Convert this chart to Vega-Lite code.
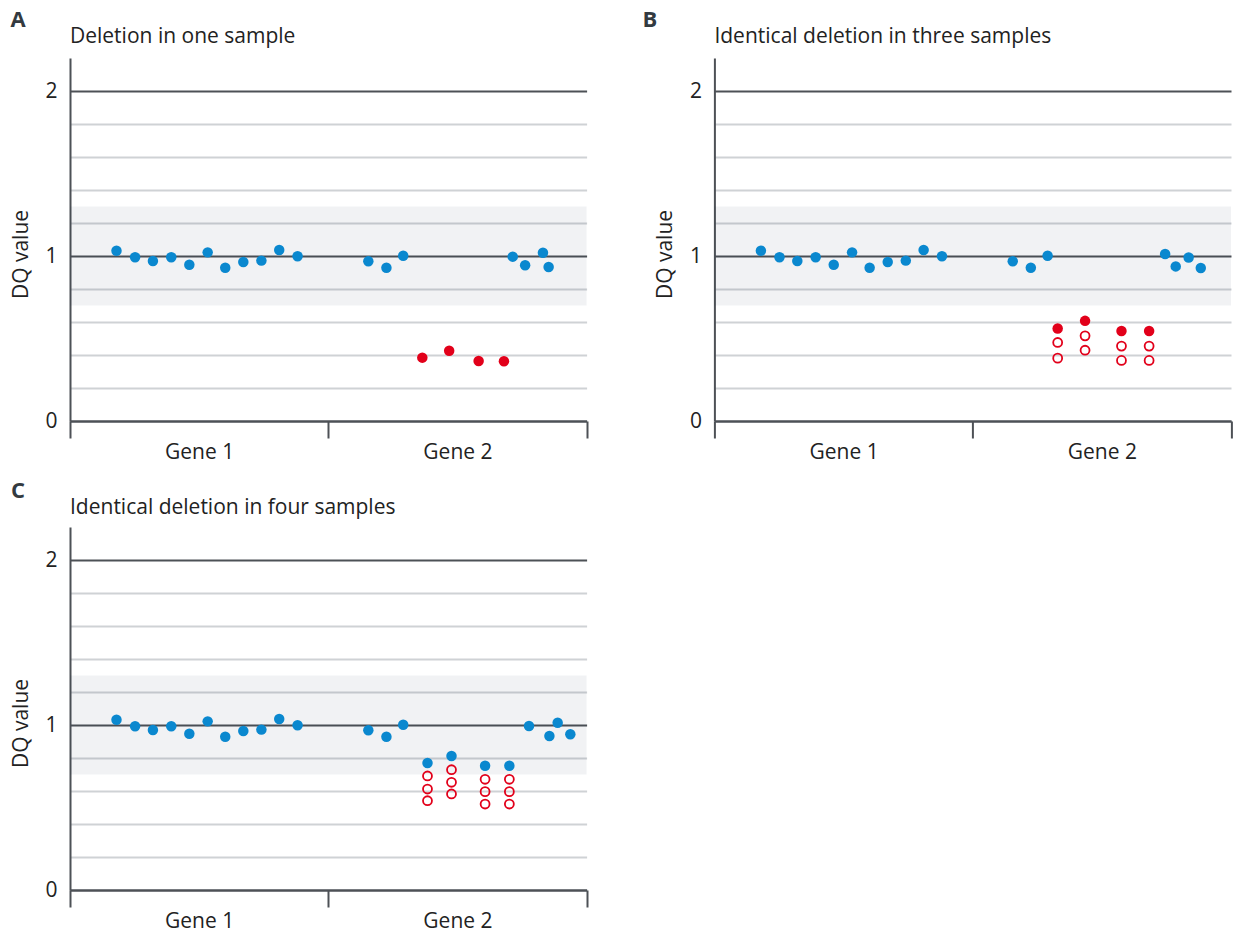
{
  "$schema": "https://vega.github.io/schema/vega-lite/v6.json",
  "padding": {"left": 10, "top": 9, "right": 0, "bottom": 0},
  "background": "white",
  "config": {"view": {"stroke": null}},
  "datasets": {
    "A": [
      {"pos": 0.180, "dq": 1.032, "status": "normal"},
      {"pos": 0.252, "dq": 0.992, "status": "normal"},
      {"pos": 0.321, "dq": 0.970, "status": "normal"},
      {"pos": 0.392, "dq": 0.992, "status": "normal"},
      {"pos": 0.462, "dq": 0.947, "status": "normal"},
      {"pos": 0.533, "dq": 1.022, "status": "normal"},
      {"pos": 0.601, "dq": 0.929, "status": "normal"},
      {"pos": 0.671, "dq": 0.964, "status": "normal"},
      {"pos": 0.741, "dq": 0.972, "status": "normal"},
      {"pos": 0.810, "dq": 1.036, "status": "normal"},
      {"pos": 0.881, "dq": 0.998, "status": "normal"},
      {"pos": 1.155, "dq": 0.968, "status": "normal"},
      {"pos": 1.225, "dq": 0.929, "status": "normal"},
      {"pos": 1.290, "dq": 1.002, "status": "normal"},
      {"pos": 1.714, "dq": 0.996, "status": "normal"},
      {"pos": 1.762, "dq": 0.944, "status": "normal"},
      {"pos": 1.831, "dq": 1.020, "status": "normal"},
      {"pos": 1.853, "dq": 0.933, "status": "normal"},
      {"pos": 1.364, "dq": 0.384, "status": "deletion"},
      {"pos": 1.468, "dq": 0.426, "status": "deletion"},
      {"pos": 1.582, "dq": 0.364, "status": "deletion"},
      {"pos": 1.680, "dq": 0.362, "status": "deletion"}
    ],
    "B": [
      {"pos": 0.180, "dq": 1.032, "status": "normal"},
      {"pos": 0.252, "dq": 0.992, "status": "normal"},
      {"pos": 0.321, "dq": 0.970, "status": "normal"},
      {"pos": 0.392, "dq": 0.992, "status": "normal"},
      {"pos": 0.462, "dq": 0.947, "status": "normal"},
      {"pos": 0.533, "dq": 1.022, "status": "normal"},
      {"pos": 0.601, "dq": 0.929, "status": "normal"},
      {"pos": 0.671, "dq": 0.964, "status": "normal"},
      {"pos": 0.741, "dq": 0.972, "status": "normal"},
      {"pos": 0.810, "dq": 1.036, "status": "normal"},
      {"pos": 0.881, "dq": 0.998, "status": "normal"},
      {"pos": 1.155, "dq": 0.968, "status": "normal"},
      {"pos": 1.225, "dq": 0.929, "status": "normal"},
      {"pos": 1.290, "dq": 1.002, "status": "normal"},
      {"pos": 1.745, "dq": 1.012, "status": "normal"},
      {"pos": 1.786, "dq": 0.937, "status": "normal"},
      {"pos": 1.836, "dq": 0.991, "status": "normal"},
      {"pos": 1.883, "dq": 0.927, "status": "normal"},
      {"pos": 1.329, "dq": 0.561, "status": "deletion"},
      {"pos": 1.435, "dq": 0.607, "status": "deletion"},
      {"pos": 1.576, "dq": 0.545, "status": "deletion"},
      {"pos": 1.683, "dq": 0.545, "status": "deletion"},
      {"pos": 1.329, "dq": 0.476, "status": "other"},
      {"pos": 1.329, "dq": 0.381, "status": "other"},
      {"pos": 1.435, "dq": 0.516, "status": "other"},
      {"pos": 1.435, "dq": 0.429, "status": "other"},
      {"pos": 1.576, "dq": 0.454, "status": "other"},
      {"pos": 1.576, "dq": 0.367, "status": "other"},
      {"pos": 1.683, "dq": 0.454, "status": "other"},
      {"pos": 1.683, "dq": 0.367, "status": "other"}
    ],
    "C": [
      {"pos": 0.180, "dq": 1.032, "status": "normal"},
      {"pos": 0.252, "dq": 0.992, "status": "normal"},
      {"pos": 0.321, "dq": 0.970, "status": "normal"},
      {"pos": 0.392, "dq": 0.992, "status": "normal"},
      {"pos": 0.462, "dq": 0.947, "status": "normal"},
      {"pos": 0.533, "dq": 1.022, "status": "normal"},
      {"pos": 0.601, "dq": 0.929, "status": "normal"},
      {"pos": 0.671, "dq": 0.964, "status": "normal"},
      {"pos": 0.741, "dq": 0.972, "status": "normal"},
      {"pos": 0.810, "dq": 1.036, "status": "normal"},
      {"pos": 0.881, "dq": 0.998, "status": "normal"},
      {"pos": 1.155, "dq": 0.968, "status": "normal"},
      {"pos": 1.225, "dq": 0.929, "status": "normal"},
      {"pos": 1.290, "dq": 1.002, "status": "normal"},
      {"pos": 1.777, "dq": 0.994, "status": "normal"},
      {"pos": 1.856, "dq": 0.933, "status": "normal"},
      {"pos": 1.888, "dq": 1.014, "status": "normal"},
      {"pos": 1.937, "dq": 0.944, "status": "normal"},
      {"pos": 1.384, "dq": 0.770, "status": "missed"},
      {"pos": 1.477, "dq": 0.812, "status": "missed"},
      {"pos": 1.607, "dq": 0.753, "status": "missed"},
      {"pos": 1.701, "dq": 0.753, "status": "missed"},
      {"pos": 1.384, "dq": 0.691, "status": "other"},
      {"pos": 1.384, "dq": 0.612, "status": "other"},
      {"pos": 1.384, "dq": 0.541, "status": "other"},
      {"pos": 1.477, "dq": 0.729, "status": "other"},
      {"pos": 1.477, "dq": 0.653, "status": "other"},
      {"pos": 1.477, "dq": 0.582, "status": "other"},
      {"pos": 1.607, "dq": 0.671, "status": "other"},
      {"pos": 1.607, "dq": 0.596, "status": "other"},
      {"pos": 1.607, "dq": 0.521, "status": "other"},
      {"pos": 1.701, "dq": 0.671, "status": "other"},
      {"pos": 1.701, "dq": 0.596, "status": "other"},
      {"pos": 1.701, "dq": 0.521, "status": "other"}
    ]
  },
  "bounds": "flush",
  "columns": 2,
  "spacing": {"row": 106, "column": 127.4},
  "concat": [
    {
      "width": 516.6, "height": 363,
      "title": {"text": "Deletion in one sample", "anchor": "start", "frame": "group", "font": "Open Sans", "fontSize": 21, "fontWeight": "normal", "color": "#222222", "baseline": "alphabetic", "offset": -55},
      "layer": [
        {
          "data": {"values": [{}]},
          "mark": {"type": "rect", "color": "#0a1e3c", "opacity": 0.06},
          "encoding": {
            "x": {"datum": 0, "type": "quantitative", "scale": {"domain": [0, 2], "nice": false, "zero": false},
              "axis": {"title": null, "values": [0, 0.5, 1, 1.5, 2], "tickCount": 20, "grid": false, "domainColor": "#4d5156", "domainWidth": 2, "tickColor": "#4d5156", "tickWidth": 2, "tickSize": 17,
                "tickOpacity": {"condition": {"test": "datum.value == 0.5 || datum.value == 1.5", "value": 0}, "value": 1},
                "labelExpr": "datum.value == 0.5 ? 'Gene 1' : datum.value == 1.5 ? 'Gene 2' : ''",
                "labelFont": "Open Sans", "labelFontSize": 21, "labelColor": "#222222", "labelPadding": 3, "labelFlush": false, "labelOverlap": false}},
            "x2": {"datum": 2},
            "y": {"datum": 0.7, "type": "quantitative", "scale": {"domain": [0, 2.2], "nice": false, "zero": false},
              "axis": {"title": "DQ value", "values": [0, 0.2, 0.4, 0.6, 0.8, 1, 1.2, 1.4, 1.6, 1.8, 2], "tickCount": 30, "ticks": false, "grid": true,
                "gridColor": {"condition": {"test": "datum.value == 0 || datum.value == 1 || datum.value == 2", "value": "#4d5156"}, "value": "#cfd2d5"},
                "gridWidth": 2,
                "domainColor": "#4d5156", "domainWidth": 2,
                "labelExpr": "datum.value == 0 ? '0' : datum.value == 1 ? '1' : datum.value == 2 ? '2' : ''",
                "labelFont": "Open Sans", "labelFontSize": 21, "labelColor": "#222222", "labelPadding": 13, "labelFlush": false, "labelOverlap": false,
                "titleFont": "Open Sans", "titleFontSize": 21, "titleFontWeight": "normal", "titleColor": "#222222", "titleX": -49, "titleY": 196, "titleAlign": "center", "titleBaseline": "middle", "titleAngle": -90}},
            "y2": {"datum": 1.3}
          }
        },
        {
          "data": {"name": "A"},
          "transform": [{"filter": "datum.status != 'other'"}],
          "mark": {"type": "circle", "size": 110, "opacity": 1},
          "encoding": {
            "x": {"field": "pos", "type": "quantitative"},
            "y": {"field": "dq", "type": "quantitative"},
            "color": {"field": "status", "type": "nominal", "scale": {"domain": ["normal", "deletion", "missed"], "range": ["#0a88cf", "#e2001a", "#0a88cf"]}, "legend": null}
          }
        },
        {
          "data": {"name": "A"},
          "transform": [{"filter": "datum.status == 'other'"}],
          "mark": {"type": "point", "shape": "circle", "size": 80, "strokeWidth": 1.8, "color": "#e2001a", "filled": false, "opacity": 1},
          "encoding": {
            "x": {"field": "pos", "type": "quantitative"},
            "y": {"field": "dq", "type": "quantitative"}
          }
        },
        {
          "data": {"values": [{"letter": "A"}]},
          "mark": {"type": "text", "font": "Open Sans", "fontSize": 22, "fontWeight": "bold", "color": "#333a40", "align": "center", "baseline": "middle"},
          "encoding": {
            "x": {"datum": -0.201, "type": "quantitative"},
            "y": {"datum": 2.43, "type": "quantitative"},
            "text": {"field": "letter"}
          }
        }
      ]
    },
    {
      "width": 516.6, "height": 363,
      "title": {"text": "Identical deletion in three samples", "anchor": "start", "frame": "group", "font": "Open Sans", "fontSize": 21, "fontWeight": "normal", "color": "#222222", "baseline": "alphabetic", "offset": -55},
      "layer": [
        {
          "data": {"values": [{}]},
          "mark": {"type": "rect", "color": "#0a1e3c", "opacity": 0.06},
          "encoding": {
            "x": {"datum": 0, "type": "quantitative", "scale": {"domain": [0, 2], "nice": false, "zero": false},
              "axis": {"title": null, "values": [0, 0.5, 1, 1.5, 2], "tickCount": 20, "grid": false, "domainColor": "#4d5156", "domainWidth": 2, "tickColor": "#4d5156", "tickWidth": 2, "tickSize": 17,
                "tickOpacity": {"condition": {"test": "datum.value == 0.5 || datum.value == 1.5", "value": 0}, "value": 1},
                "labelExpr": "datum.value == 0.5 ? 'Gene 1' : datum.value == 1.5 ? 'Gene 2' : ''",
                "labelFont": "Open Sans", "labelFontSize": 21, "labelColor": "#222222", "labelPadding": 3, "labelFlush": false, "labelOverlap": false}},
            "x2": {"datum": 2},
            "y": {"datum": 0.7, "type": "quantitative", "scale": {"domain": [0, 2.2], "nice": false, "zero": false},
              "axis": {"title": "DQ value", "values": [0, 0.2, 0.4, 0.6, 0.8, 1, 1.2, 1.4, 1.6, 1.8, 2], "tickCount": 30, "ticks": false, "grid": true,
                "gridColor": {"condition": {"test": "datum.value == 0 || datum.value == 1 || datum.value == 2", "value": "#4d5156"}, "value": "#cfd2d5"},
                "gridWidth": 2,
                "domainColor": "#4d5156", "domainWidth": 2,
                "labelExpr": "datum.value == 0 ? '0' : datum.value == 1 ? '1' : datum.value == 2 ? '2' : ''",
                "labelFont": "Open Sans", "labelFontSize": 21, "labelColor": "#222222", "labelPadding": 13, "labelFlush": false, "labelOverlap": false,
                "titleFont": "Open Sans", "titleFontSize": 21, "titleFontWeight": "normal", "titleColor": "#222222", "titleX": -49, "titleY": 196, "titleAlign": "center", "titleBaseline": "middle", "titleAngle": -90}},
            "y2": {"datum": 1.3}
          }
        },
        {
          "data": {"name": "B"},
          "transform": [{"filter": "datum.status != 'other'"}],
          "mark": {"type": "circle", "size": 110, "opacity": 1},
          "encoding": {
            "x": {"field": "pos", "type": "quantitative"},
            "y": {"field": "dq", "type": "quantitative"},
            "color": {"field": "status", "type": "nominal", "scale": {"domain": ["normal", "deletion", "missed"], "range": ["#0a88cf", "#e2001a", "#0a88cf"]}, "legend": null}
          }
        },
        {
          "data": {"name": "B"},
          "transform": [{"filter": "datum.status == 'other'"}],
          "mark": {"type": "point", "shape": "circle", "size": 80, "strokeWidth": 1.8, "color": "#e2001a", "filled": false, "opacity": 1},
          "encoding": {
            "x": {"field": "pos", "type": "quantitative"},
            "y": {"field": "dq", "type": "quantitative"}
          }
        },
        {
          "data": {"values": [{"letter": "B"}]},
          "mark": {"type": "text", "font": "Open Sans", "fontSize": 22, "fontWeight": "bold", "color": "#333a40", "align": "center", "baseline": "middle"},
          "encoding": {
            "x": {"datum": -0.25, "type": "quantitative"},
            "y": {"datum": 2.43, "type": "quantitative"},
            "text": {"field": "letter"}
          }
        }
      ]
    },
    {
      "width": 516.6, "height": 363,
      "title": {"text": "Identical deletion in four samples", "anchor": "start", "frame": "group", "font": "Open Sans", "fontSize": 21, "fontWeight": "normal", "color": "#222222", "baseline": "alphabetic", "offset": -55},
      "layer": [
        {
          "data": {"values": [{}]},
          "mark": {"type": "rect", "color": "#0a1e3c", "opacity": 0.06},
          "encoding": {
            "x": {"datum": 0, "type": "quantitative", "scale": {"domain": [0, 2], "nice": false, "zero": false},
              "axis": {"title": null, "values": [0, 0.5, 1, 1.5, 2], "tickCount": 20, "grid": false, "domainColor": "#4d5156", "domainWidth": 2, "tickColor": "#4d5156", "tickWidth": 2, "tickSize": 17,
                "tickOpacity": {"condition": {"test": "datum.value == 0.5 || datum.value == 1.5", "value": 0}, "value": 1},
                "labelExpr": "datum.value == 0.5 ? 'Gene 1' : datum.value == 1.5 ? 'Gene 2' : ''",
                "labelFont": "Open Sans", "labelFontSize": 21, "labelColor": "#222222", "labelPadding": 3, "labelFlush": false, "labelOverlap": false}},
            "x2": {"datum": 2},
            "y": {"datum": 0.7, "type": "quantitative", "scale": {"domain": [0, 2.2], "nice": false, "zero": false},
              "axis": {"title": "DQ value", "values": [0, 0.2, 0.4, 0.6, 0.8, 1, 1.2, 1.4, 1.6, 1.8, 2], "tickCount": 30, "ticks": false, "grid": true,
                "gridColor": {"condition": {"test": "datum.value == 0 || datum.value == 1 || datum.value == 2", "value": "#4d5156"}, "value": "#cfd2d5"},
                "gridWidth": 2,
                "domainColor": "#4d5156", "domainWidth": 2,
                "labelExpr": "datum.value == 0 ? '0' : datum.value == 1 ? '1' : datum.value == 2 ? '2' : ''",
                "labelFont": "Open Sans", "labelFontSize": 21, "labelColor": "#222222", "labelPadding": 13, "labelFlush": false, "labelOverlap": false,
                "titleFont": "Open Sans", "titleFontSize": 21, "titleFontWeight": "normal", "titleColor": "#222222", "titleX": -49, "titleY": 196, "titleAlign": "center", "titleBaseline": "middle", "titleAngle": -90}},
            "y2": {"datum": 1.3}
          }
        },
        {
          "data": {"name": "C"},
          "transform": [{"filter": "datum.status != 'other'"}],
          "mark": {"type": "circle", "size": 110, "opacity": 1},
          "encoding": {
            "x": {"field": "pos", "type": "quantitative"},
            "y": {"field": "dq", "type": "quantitative"},
            "color": {"field": "status", "type": "nominal", "scale": {"domain": ["normal", "deletion", "missed"], "range": ["#0a88cf", "#e2001a", "#0a88cf"]}, "legend": null}
          }
        },
        {
          "data": {"name": "C"},
          "transform": [{"filter": "datum.status == 'other'"}],
          "mark": {"type": "point", "shape": "circle", "size": 80, "strokeWidth": 1.8, "color": "#e2001a", "filled": false, "opacity": 1},
          "encoding": {
            "x": {"field": "pos", "type": "quantitative"},
            "y": {"field": "dq", "type": "quantitative"}
          }
        },
        {
          "data": {"values": [{"letter": "C"}]},
          "mark": {"type": "text", "font": "Open Sans", "fontSize": 22, "fontWeight": "bold", "color": "#333a40", "align": "center", "baseline": "middle"},
          "encoding": {
            "x": {"datum": -0.201, "type": "quantitative"},
            "y": {"datum": 2.42, "type": "quantitative"},
            "text": {"field": "letter"}
          }
        }
      ]
    }
  ]
}
